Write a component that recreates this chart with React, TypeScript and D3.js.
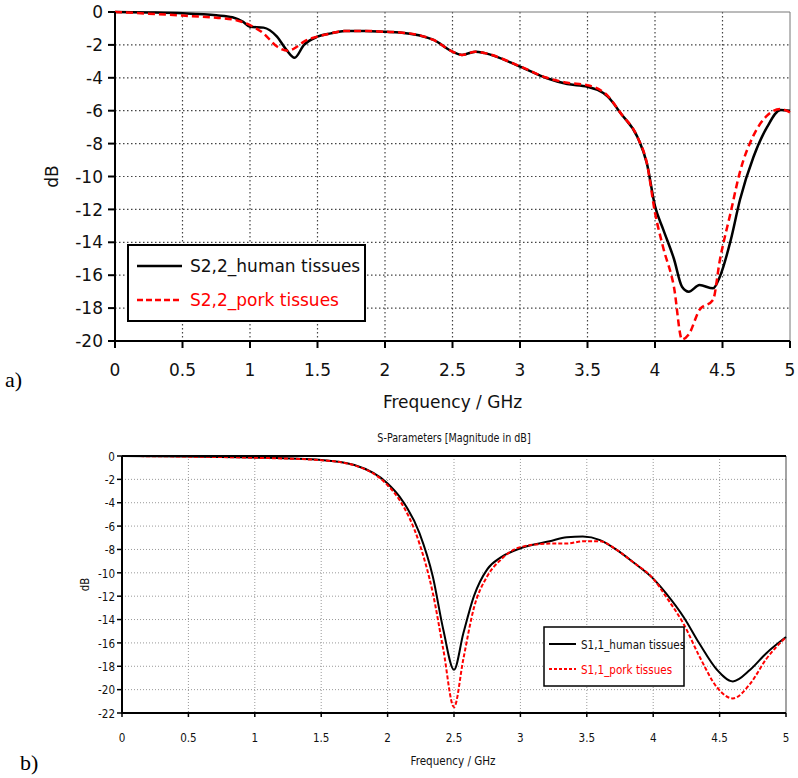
import * as d3 from "d3";

// --- chart a) S2,2 ---
const s22HumanFreq = [0, 0.25, 0.5, 0.75, 0.87, 0.95, 1.0, 1.1, 1.2, 1.27, 1.33, 1.4, 1.5, 1.6, 1.7, 1.85, 2.0, 2.11, 2.36, 2.5, 2.57, 2.67, 2.74, 3.0, 3.2, 3.35, 3.5, 3.65, 3.75, 3.87, 3.94, 4.0, 4.06, 4.14, 4.2, 4.25, 4.33, 4.43, 4.48, 4.56, 4.63, 4.73, 4.83, 4.93, 5.0];
const s22HumanDb = [0, -0.03, -0.08, -0.2, -0.32, -0.6, -0.9, -0.95, -1.5, -2.3, -2.78, -2.0, -1.5, -1.3, -1.15, -1.15, -1.2, -1.24, -1.7, -2.41, -2.61, -2.41, -2.5, -3.32, -4.03, -4.38, -4.54, -5.15, -6.2, -7.6, -9.2, -11.8, -13.2, -15.0, -16.7, -17.0, -16.6, -16.8, -16.1, -13.9, -11.4, -8.8, -7.0, -5.96, -6.0];
const s22PorkFreq = [0, 0.25, 0.5, 0.75, 0.87, 1.0, 1.1, 1.2, 1.28, 1.35, 1.4, 1.5, 1.6, 1.7, 1.85, 2.0, 2.11, 2.36, 2.5, 2.57, 2.67, 2.74, 3.0, 3.2, 3.35, 3.5, 3.65, 3.75, 3.87, 3.94, 4.0, 4.06, 4.14, 4.2, 4.25, 4.33, 4.43, 4.48, 4.56, 4.63, 4.73, 4.83, 4.93, 5.0];
const s22PorkDb = [0, -0.1, -0.22, -0.35, -0.45, -0.8, -1.3, -2.1, -2.35, -2.1, -1.8, -1.5, -1.3, -1.15, -1.15, -1.2, -1.24, -1.7, -2.41, -2.61, -2.41, -2.5, -3.3, -4.0, -4.3, -4.45, -5.1, -6.2, -7.6, -9.2, -12.2, -14.3, -16.7, -19.9, -19.6, -18.1, -17.5, -15.1, -12.2, -9.7, -7.5, -6.3, -5.9, -6.1];

// --- chart b) S1,1 ---
const s11Freq = [0, 0.5, 1.0, 1.5, 1.75, 2.0, 2.09, 2.24, 2.34, 2.42, 2.5, 2.57, 2.65, 2.75, 2.85, 3.0, 3.22, 3.35, 3.47, 3.6, 3.72, 3.85, 4.0, 4.1, 4.23, 4.35, 4.48, 4.6, 4.73, 4.85, 5.0];
const s11HumanDb = [0, -0.05, -0.13, -0.34, -0.77, -2.35, -3.48, -6.6, -10.3, -14.9, -18.3, -15.2, -12.0, -9.7, -8.7, -7.9, -7.3, -6.96, -6.9, -7.2, -8.0, -9.1, -10.5, -11.8, -13.8, -16.1, -18.3, -19.3, -18.3, -16.9, -15.5];
const s11PorkDb = [0, -0.05, -0.15, -0.36, -0.8, -2.5, -3.77, -7.5, -11.7, -16.6, -21.5, -17.4, -13.0, -10.3, -8.9, -7.8, -7.5, -7.5, -7.3, -7.3, -8.0, -9.1, -10.5, -12.1, -14.4, -17.2, -19.8, -20.75, -19.5, -17.4, -15.5];

const xTicks = [0, 0.5, 1, 1.5, 2, 2.5, 3, 3.5, 4, 4.5, 5];
const yTicksA = d3.range(0, -21, -2);
const yTicksB = d3.range(0, -23, -2);

const fontA = "'DejaVu Sans', Verdana, sans-serif";

const zip = (f: number[], v: number[]) => f.map((d, i) => [d, v[i]] as [number, number]);

function ChartA() {
  const left = 115, right = 790, top = 12, bottom = 341;
  const x = d3.scaleLinear().domain([0, 5]).range([left, right]);
  const y = d3.scaleLinear().domain([0, -20]).range([top, bottom]);
  const line = d3.line<[number, number]>()
    .x(d => x(d[0]))
    .y(d => y(d[1]))
    .curve(d3.curveMonotoneX);

  return (
    <g>
      {/* grille */}
      {xTicks.slice(1, -1).map(t => (
        <line key={"gx" + t} x1={x(t)} x2={x(t)} y1={top} y2={bottom}
          stroke="#444" strokeWidth={1.2} strokeDasharray="1.5,2.5" />
      ))}
      {yTicksA.slice(1, -1).map(t => (
        <line key={"gy" + t} x1={left} x2={right} y1={y(t)} y2={y(t)}
          stroke="#444" strokeWidth={1.2} strokeDasharray="1.5,2.5" />
      ))}
      <line x1={left} x2={right} y1={top} y2={top} stroke="#777" strokeWidth={1} />
      <line x1={right} x2={right} y1={top} y2={bottom} stroke="#777" strokeWidth={1} />

      {/* courbes */}
      <path d={line(zip(s22HumanFreq, s22HumanDb)) ?? ""} fill="none" stroke="#000" strokeWidth={2.5} />
      <path d={line(zip(s22PorkFreq, s22PorkDb)) ?? ""} fill="none" stroke="#ff0000" strokeWidth={2.5} strokeDasharray="7,4" />

      {/* axes */}
      <line x1={left} x2={left} y1={top} y2={bottom + 1} stroke="#000" strokeWidth={2} />
      <line x1={left - 1} x2={right} y1={bottom} y2={bottom} stroke="#000" strokeWidth={2} />
      {yTicksA.map(t => (
        <g key={"ty" + t}>
          <line x1={left - 7} x2={left} y1={y(t)} y2={y(t)} stroke="#000" strokeWidth={2} />
          <text x={left - 12} y={y(t)} dy="0.36em" textAnchor="end" fontSize={17} fontFamily={fontA} fill="#111">{t}</text>
        </g>
      ))}
      {xTicks.map(t => (
        <g key={"tx" + t}>
          <line x1={x(t)} x2={x(t)} y1={bottom} y2={bottom + 7} stroke="#000" strokeWidth={2} />
          <text x={x(t)} y={bottom + 35} textAnchor="middle" fontSize={17} fontFamily={fontA} fill="#111">{t}</text>
        </g>
      ))}
      <text transform={`translate(58,${(top + bottom) / 2}) rotate(-90)`} textAnchor="middle" fontSize={17} fontFamily={fontA} fill="#111">dB</text>
      <text x={(left + right) / 2} y={408} textAnchor="middle" fontSize={17} fontFamily={fontA} fill="#111">Frequency / GHz</text>

      {/* légende */}
      <rect x={128} y={245} width={237} height={76} fill="#fff" stroke="#000" strokeWidth={2} />
      <line x1={137} x2={182} y1={266} y2={266} stroke="#000" strokeWidth={2.5} />
      <text x={190} y={266} dy="0.36em" fontSize={17} fontFamily={fontA} fill="#111">S2,2_human tissues</text>
      <line x1={137} x2={182} y1={300} y2={300} stroke="#ff0000" strokeWidth={2.5} strokeDasharray="6,3" />
      <text x={190} y={300} dy="0.36em" fontSize={17} fontFamily={fontA} fill="#ff0000">S2,2_pork tissues</text>
    </g>
  );
}

// texte étroit (la figure b est compressée horizontalement)
function Narrow({ x, y, anchor = "start", size = 12, fill = "#111", children, dy }: any) {
  return (
    <text transform={`translate(${x},${y}) scale(0.8,1)`} textAnchor={anchor} fontSize={size}
      fontFamily={fontA} fill={fill} dy={dy}>{children}</text>
  );
}

function ChartB() {
  const left = 122, right = 786, top = 456, bottom = 713;
  const x = d3.scaleLinear().domain([0, 5]).range([left, right]);
  const y = d3.scaleLinear().domain([0, -22]).range([top, bottom]);
  const line = d3.line<[number, number]>()
    .x(d => x(d[0]))
    .y(d => y(d[1]))
    .curve(d3.curveMonotoneX);

  return (
    <g>
      {xTicks.slice(1, -1).map(t => (
        <line key={"gx" + t} x1={x(t)} x2={x(t)} y1={top} y2={bottom}
          stroke="#999" strokeWidth={1} strokeDasharray="1,2" />
      ))}
      {yTicksB.slice(1, -1).map(t => (
        <line key={"gy" + t} x1={left} x2={right} y1={y(t)} y2={y(t)}
          stroke="#999" strokeWidth={1} strokeDasharray="1,2" />
      ))}
      <line x1={right} x2={right} y1={top} y2={bottom} stroke="#666" strokeWidth={1.2} />

      <path d={line(zip(s11Freq, s11HumanDb)) ?? ""} fill="none" stroke="#000" strokeWidth={2} />
      <path d={line(zip(s11Freq, s11PorkDb)) ?? ""} fill="none" stroke="#ff0000" strokeWidth={2} strokeDasharray="4,2" />

      <line x1={left} x2={right} y1={top} y2={top} stroke="#000" strokeWidth={2} />
      <line x1={left} x2={left} y1={top} y2={bottom} stroke="#000" strokeWidth={2} />
      <line x1={left - 1} x2={right} y1={bottom} y2={bottom} stroke="#000" strokeWidth={2} />
      {yTicksB.map(t => (
        <g key={"ty" + t}>
          <line x1={left - 5} x2={left} y1={y(t)} y2={y(t)} stroke="#000" strokeWidth={1.5} />
          <Narrow x={left - 7} y={y(t)} dy="0.36em" anchor="end" size={13}>{t}</Narrow>
        </g>
      ))}
      {xTicks.map(t => (
        <g key={"tx" + t}>
          <line x1={x(t)} x2={x(t)} y1={bottom} y2={bottom + 4} stroke="#000" strokeWidth={1.5} />
          <Narrow x={x(t)} y={bottom + 29} anchor="middle" size={13}>{t}</Narrow>
        </g>
      ))}
      <text transform={`translate(89,${(top + bottom) / 2}) rotate(-90) scale(0.85,1)`} textAnchor="middle" fontSize={12} fontFamily={fontA} fill="#111">dB</text>
      <Narrow x={453} y={765} anchor="middle" size={13}>Frequency / GHz</Narrow>
      <Narrow x={454} y={442} anchor="middle" size={12}>S-Parameters [Magnitude in dB]</Narrow>

      <rect x={544} y={627} width={140} height={59} fill="#fff" stroke="#000" strokeWidth={1.5} />
      <line x1={549} x2={576} y1={644} y2={644} stroke="#000" strokeWidth={2} />
      <Narrow x={581} y={644} dy="0.36em" size={13}>S1,1_human tissues</Narrow>
      <line x1={549} x2={576} y1={669} y2={669} stroke="#ff0000" strokeWidth={2} strokeDasharray="3,2" />
      <Narrow x={581} y={669} dy="0.36em" size={13} fill="#ff0000">S1,1_pork tissues</Narrow>
    </g>
  );
}

export default function App() {
  return (
    <svg width={798} height={778} style={{ position: "absolute", left: 0, top: 0, background: "#fff" }}>
      <rect width={798} height={778} fill="#fff" />
      <ChartA />
      <ChartB />
      <text x={5} y={387} fontSize={22} fontFamily="'Liberation Serif', serif" fill="#000">a)</text>
      <text x={20} y={770} fontSize={22} fontFamily="'Liberation Serif', serif" fill="#000">b)</text>
    </svg>
  );
}
